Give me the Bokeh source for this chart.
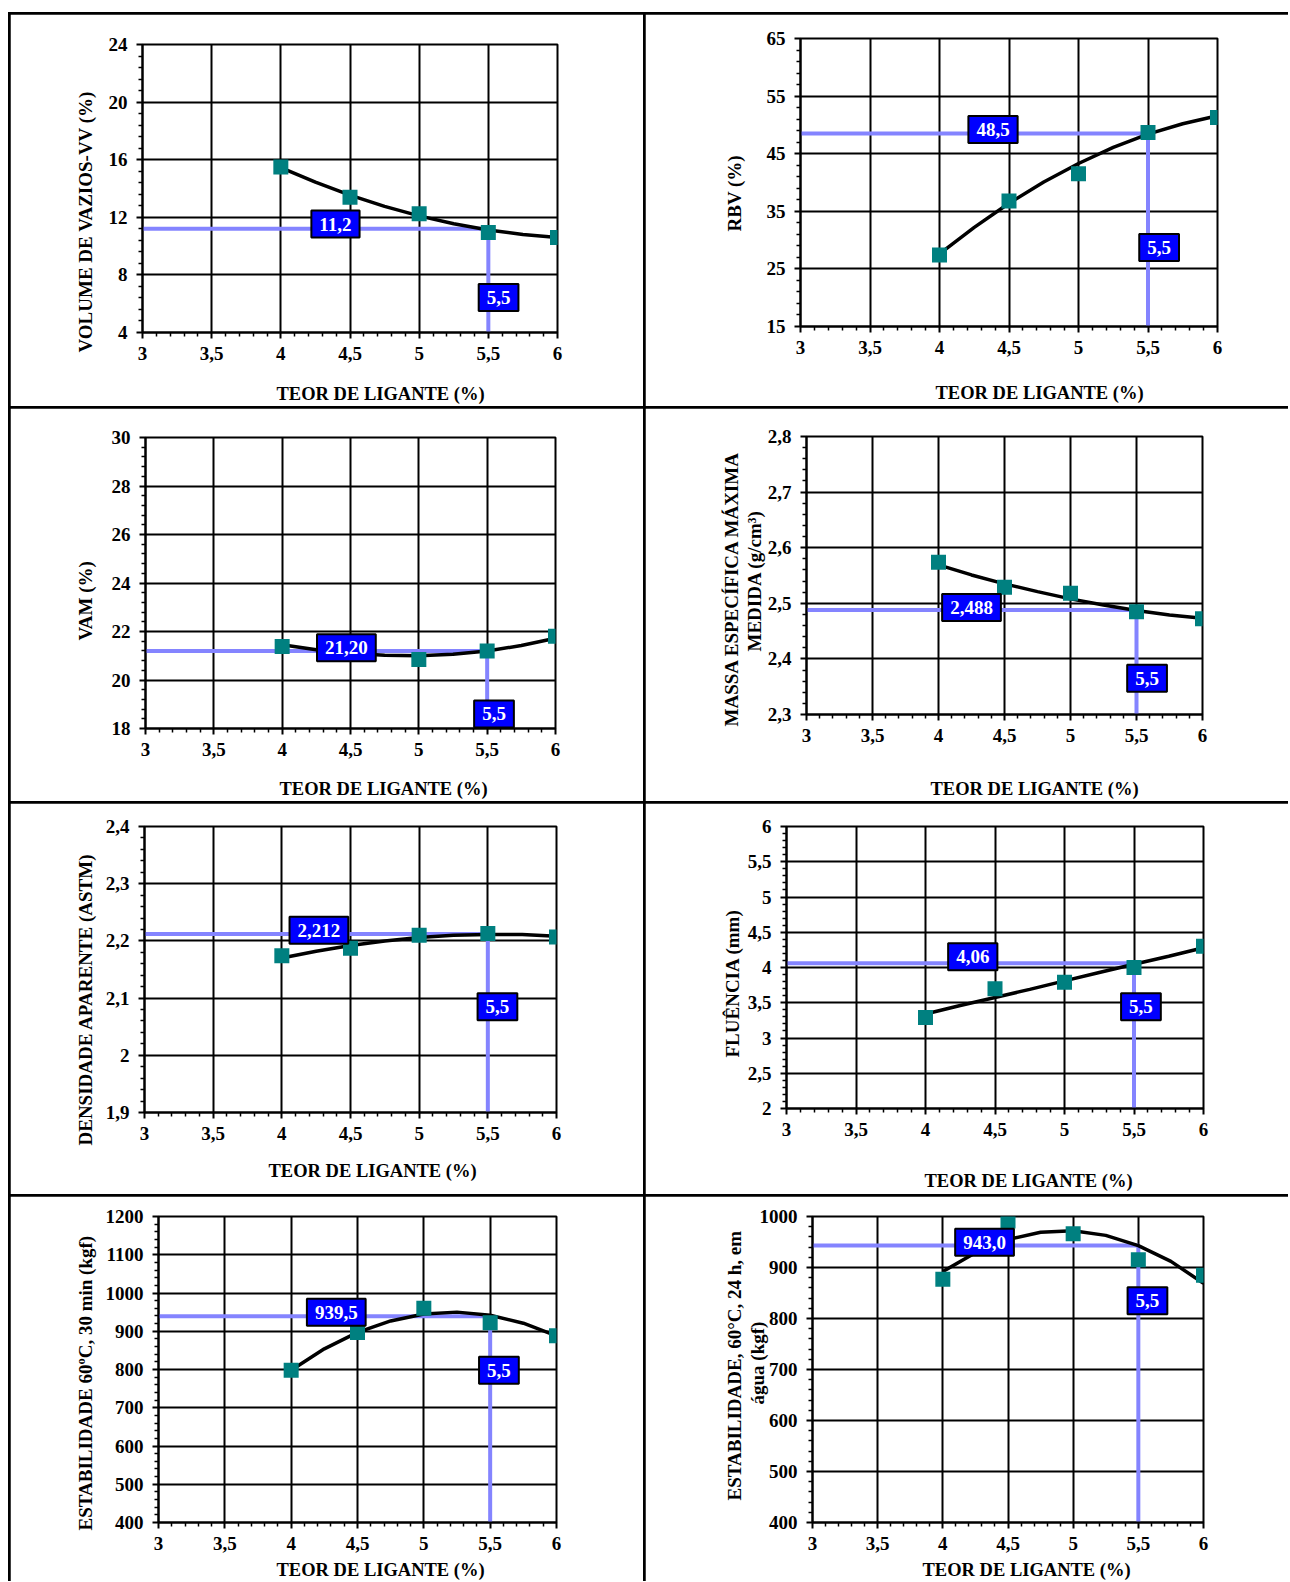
import numpy as np
from bokeh.plotting import figure
from bokeh.models import Range1d, FixedTicker, CustomJSTickFormatter, Label, Title
from bokeh.layouts import row, column
from bokeh.embed import file_html
from bokeh.resources import INLINE

# ---------------- data ----------------
teor = [4.0, 4.5, 5.0, 5.5, 6.0]
curve_x = [4.0, 4.25, 4.5, 4.75, 5.0, 5.25, 5.5, 5.75, 6.0]
x_ticks = [3, 3.5, 4, 4.5, 5, 5.5, 6]

vv = [15.5, 13.4, 12.25, 10.95, 10.6]
vv_fit = [15.45, 14.44, 13.54, 12.76, 12.10, 11.55, 11.12, 10.80, 10.60]

rbv = [27.4, 36.8, 41.5, 48.7, 51.3]
rbv_fit = [27.6, 32.2, 36.4, 40.1, 43.3, 46.1, 48.4, 50.2, 51.6]

vam_teor = [4.0, 5.0, 5.5, 6.0]
vam = [21.38, 20.85, 21.2, 21.8]
vam_fit = [21.45, 21.25, 21.10, 21.02, 21.0, 21.06, 21.2, 21.42, 21.72]

dmm = [2.574, 2.529, 2.518, 2.485, 2.472]
dmm_fit = [2.569, 2.551, 2.535, 2.521, 2.508, 2.497, 2.487, 2.479, 2.473]

dap = [2.174, 2.187, 2.210, 2.213, 2.207]
dap_fit = [2.170, 2.182, 2.192, 2.200, 2.206, 2.210, 2.211, 2.211, 2.208]

flu = [3.29, 3.70, 3.79, 4.00, 4.30]
flu_fit = [3.34, 3.46, 3.575, 3.69, 3.81, 3.93, 4.045, 4.16, 4.28]

est30 = [798, 897, 960, 922, 888]
est30_fit = [798, 854, 897, 927, 945, 950, 942, 921, 888]

est24 = [877, 991, 966, 915, 885]
est24_fit = [892, 929, 955, 969, 972, 963, 943, 912, 869]

opt_teor = 5.5
opt_teor_text = "5,5"
opt_vals = [11.2, 48.5, 21.20, 2.488, 2.212, 4.06, 939.5, 943.0]
opt_text = ["11,2", "48,5", "21,20", "2,488", "2,212", "4,06", "939,5", "943,0"]

y_ranges = [(4, 24), (15, 65), (18, 30), (2.3, 2.8), (1.9, 2.4), (2, 6), (400, 1200), (400, 1000)]
y_ticks = [
    [4, 8, 12, 16, 20, 24],
    [15, 25, 35, 45, 55, 65],
    [18, 20, 22, 24, 26, 28, 30],
    [2.3, 2.4, 2.5, 2.6, 2.7, 2.8],
    [1.9, 2.0, 2.1, 2.2, 2.3, 2.4],
    [2, 2.5, 3, 3.5, 4, 4.5, 5, 5.5, 6],
    [400, 500, 600, 700, 800, 900, 1000, 1100, 1200],
    [400, 500, 600, 700, 800, 900, 1000],
]
# y titles, listed from the line nearest the axis outwards
y_labels = [
    ["VOLUME DE VAZIOS-VV  (%)"],
    ["RBV (%)"],
    ["VAM  (%)"],
    ["MEDIDA  (g/cm³)", "MASSA  ESPECÍFICA  MÁXIMA"],
    ["DENSIDADE  APARENTE  (ASTM)"],
    ["FLUÊNCIA (mm)"],
    ["ESTABILIDADE  60ºC, 30 min (kgf)"],
    ["água (kgf)", "ESTABILIDADE,  60°C, 24 h, em"],
]
x_title = "TEOR DE LIGANTE (%)"

series = [
    (teor, vv, vv_fit), (teor, rbv, rbv_fit), (vam_teor, vam, vam_fit), (teor, dmm, dmm_fit),
    (teor, dap, dap_fit), (teor, flu, flu_fit), (teor, est30, est30_fit), (teor, est24, est24_fit),
]

# ---------------- layout (pixels) ----------------
# w, h, left, right, top, bottom
geom = [
    (633, 392, 132, 86, 30, 74), (643, 392, 155, 71, 24, 80),
    (633, 393, 135, 88, 29, 73), (643, 393, 161, 86, 28, 87),
    (633, 391, 134, 87, 23, 82), (643, 391, 141, 85, 23, 86),
    (633, 385, 148, 87, 20, 59), (643, 385, 167, 85, 20, 59),
]
# gap (px) between y tick labels and y title; between x tick labels and x title
ygap = [6, 15, 9, -4, 3, -2, 3, -15]
xgap = [17, 22, 16, 30, 14, 28, 3, 3]
# offsets along the axis (px) for the titles
ytitle_off = [[-20], [95], [88], [63, -12], [-33], [51], [-8], [118, 22]]
xtitle_off = [134, 135, 134, 124, 124, 138, 118, 110]
# annotation box positions in data coords: (value box), (5,5 box)
box_pos = [
    ((4.395, 11.53), (5.574, 6.43)), ((4.385, 49.2), (5.58, 28.7)),
    ((4.47, 21.33), (5.55, 18.6)), ((4.25, 2.4924), (5.58, 2.3654)),
    ((4.27, 2.2185), (5.57, 2.0848)), ((4.34, 4.152), (5.55, 3.443)),
    ((4.34, 949.4), (5.566, 798)), ((4.32, 949.5), (5.57, 835)),
]

FONT = "Liberation Serif"
fmt_code = "return String(tick).replace('.', ',');"


def minor_between(ticks):
    out = []
    for a, b in zip(ticks[:-1], ticks[1:]):
        for k in range(1, 5):
            out.append(round(a + (b - a) * k / 5, 6))
    return out


def make_panel(i):
    w, h, L, R, T, B = geom[i]
    y0, y1 = y_ranges[i]

    p = figure(width=w, height=h, x_range=Range1d(3, 6), y_range=Range1d(y0, y1),
               output_backend="svg", toolbar_location=None, frame_align=False,
               min_border_left=L, min_border_right=R, min_border_top=T, min_border_bottom=B)
    p.background_fill_color = "white"
    p.border_fill_color = "white"
    p.outline_line_color = "black"
    p.outline_line_width = 2

    p.xaxis.ticker = FixedTicker(ticks=x_ticks, minor_ticks=minor_between(x_ticks))
    p.yaxis.ticker = FixedTicker(ticks=y_ticks[i], minor_ticks=minor_between(y_ticks[i]))
    for ax in (p.xaxis[0], p.yaxis[0]):
        ax.formatter = CustomJSTickFormatter(code=fmt_code)
        ax.axis_line_color = "black"
        ax.axis_line_width = 2
        ax.major_tick_line_color = "black"
        ax.major_tick_line_width = 2
        ax.major_tick_out = 6
        ax.major_tick_in = 0
        ax.minor_tick_line_color = "black"
        ax.minor_tick_line_width = 1.5
        ax.minor_tick_out = 4
        ax.minor_tick_in = 0
        ax.major_label_text_font = FONT
        ax.major_label_text_font_style = "bold"
        ax.major_label_text_font_size = "19px"
        ax.major_label_text_color = "black"
        ax.axis_label_text_font_size = "1px"
    p.xaxis.major_label_standoff = 8
    p.yaxis.major_label_standoff = 9
    p.yaxis.axis_label = " "
    p.yaxis.axis_label_standoff = ygap[i]
    p.xaxis.axis_label = " "
    p.xaxis.axis_label_standoff = xgap[i]
    for g in (p.xgrid[0], p.ygrid[0]):
        g.grid_line_color = "black"
        g.grid_line_width = 2

    # optimum guide lines
    ov = opt_vals[i]
    p.line([3, opt_teor], [ov, ov], line_color="#8484ff", line_width=4)
    p.line([opt_teor, opt_teor], [y0, ov], line_color="#8484ff", line_width=4)

    xs, ys, fit = series[i]
    p.line(curve_x, fit, line_color="black", line_width=3.5)
    p.scatter(xs, ys, marker="square", size=15, fill_color="#008080", line_color=None)

    # boxed values
    for (bx, by), txt in zip(box_pos[i], [opt_text[i], opt_teor_text]):
        p.add_layout(Label(x=bx, y=by, text=txt, text_align="center", text_baseline="middle",
                           text_font=FONT, text_font_style="bold", text_font_size="19px",
                           text_color="white", background_fill_color="#0000ff",
                           border_line_color="black", border_line_width=2,
                           padding=dict(x=8, y=7)))

    # y axis title(s)
    for txt, off in zip(y_labels[i], ytitle_off[i]):
        p.add_layout(Title(text=txt, align="left", vertical_align="bottom", offset=off, standoff=0,
                           text_font=FONT, text_font_style="bold", text_font_size="19px",
                           text_color="black"), "left")
    # x axis title
    p.add_layout(Title(text=x_title, align="left", vertical_align="top", offset=xtitle_off[i],
                       standoff=0, text_font=FONT, text_font_style="bold",
                       text_font_size="18.5px", text_color="black"), "below")
    return p


panels = [make_panel(i) for i in range(8)]
rows = [row(panels[2 * r], panels[2 * r + 1], spacing=2) for r in range(4)]
page = column(*rows, spacing=2,
              styles={"background-color": "black", "padding-left": "2px", "padding-top": "2px",
                      "margin-left": "8px", "margin-top": "12px"})

open("out.html", "w").write(file_html(page, INLINE))
